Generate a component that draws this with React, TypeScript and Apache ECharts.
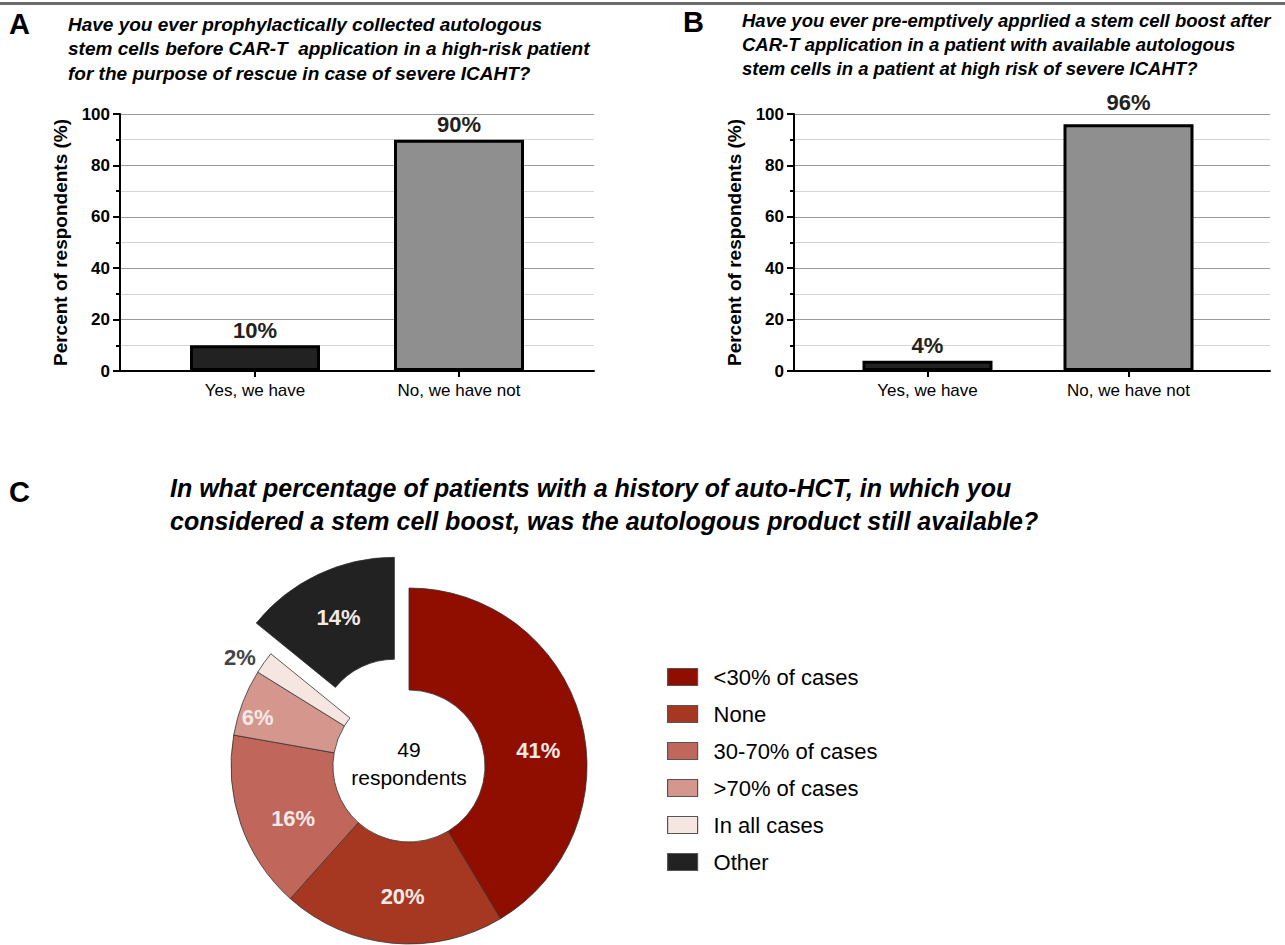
import React, { useEffect, useRef } from "react";
import * as echarts from "echarts";

const barCategories = ["Yes, we have", "No, we have not"];
const valuesA = [10, 90];
const valuesB = [4, 96];
const barColors = ["#222222", "#8f8f8f"];
const yTicks = [0, 20, 40, 60, 80, 100];

const pieNames = ["<30% of cases", "None", "30-70% of cases", ">70% of cases", "In all cases", "Other"];
const pieValues = [41, 20, 16, 6, 2, 14];
const pieColors = ["#8f0e00", "#a63822", "#c0665a", "#d5978d", "#f5e6e2", "#222222"];

const titleA = [
  "Have you ever prophylactically collected autologous",
  "stem cells before CAR-T  application in a high-risk patient",
  "for the purpose of rescue in case of severe ICAHT?",
];
const titleB = [
  "Have you ever pre-emptively apprlied a stem cell boost after",
  "CAR-T application in a patient with available autologous",
  "stem cells in a patient at high risk of severe ICAHT?",
];
const titleC = [
  "In what percentage of patients with a history of auto-HCT, in which you",
  "considered a stem cell boost, was the autologous product still available?",
];

const FONT = "'Liberation Sans', Arial, Helvetica, sans-serif";

export default function App() {
  const ref = useRef<HTMLDivElement>(null);
  useEffect(() => {
    if (!ref.current) return;
    const chart = echarts.init(ref.current, undefined, { renderer: "svg" });

    const frameY = (gridIndex: number) => ({
      type: "value",
      gridIndex,
      min: yTicks[0],
      max: yTicks[yTicks.length - 1],
      interval: 20,
      name: "Percent of respondents (%)",
      nameLocation: "middle",
      nameRotate: 90,
      nameGap: 50,
      nameTextStyle: { fontSize: 19, fontWeight: "bold", color: "#000", fontFamily: FONT },
      axisLine: { show: true, lineStyle: { color: "#000", width: 2 } },
      axisTick: { show: true, length: 7, lineStyle: { color: "#000", width: 2 } },
      minorTick: { show: true, splitNumber: 2, length: 4, lineStyle: { color: "#000", width: 2 } },
      splitLine: { show: true, lineStyle: { color: "#9a9a9a", width: 1 } },
      minorSplitLine: { show: true, lineStyle: { color: "#d4d4d4", width: 1 } },
      axisLabel: { fontSize: 17, fontWeight: "bold", color: "#000", margin: 10, fontFamily: FONT },
    });
    const frameX = (gridIndex: number) => ({
      type: "value",
      gridIndex,
      min: 0,
      max: 1,
      axisLine: { show: true, onZero: false, lineStyle: { color: "#000", width: 2 } },
      axisTick: { show: false },
      axisLabel: { show: false },
      splitLine: { show: false },
    });
    const barX = (gridIndex: number) => ({
      type: "category",
      gridIndex,
      data: barCategories,
      axisLine: { show: false },
      axisTick: { show: true, alignWithLabel: true, length: 6, lineStyle: { color: "#000", width: 2 } },
      axisLabel: { fontSize: 17, color: "#000", margin: 11, fontFamily: FONT },
      splitLine: { show: false },
    });
    const barY = (gridIndex: number) => ({
      type: "value",
      gridIndex,
      min: 0,
      max: 100,
      show: false,
      splitLine: { show: false },
    });
    const barSeries = (idx: number, vals: number[], topOffset: number) => ({
      type: "bar",
      xAxisIndex: idx,
      yAxisIndex: idx,
      barWidth: 130,
      data: vals.map((v, i) => ({
        value: v,
        itemStyle: { color: barColors[i] },
        label: i === 1 ? { offset: [0, topOffset] } : undefined,
      })),
      itemStyle: { borderColor: "#000", borderWidth: 3 },
      label: {
        show: true,
        position: "top",
        distance: 4,
        formatter: "{c}%",
        fontSize: 22,
        fontWeight: "bold",
        color: "#222",
        fontFamily: FONT,
      },
      emphasis: { disabled: true },
      silent: true,
    });

    const textLines = (lines: string[], x: number, y: number, size: number, lh: number) => ({
      type: "text",
      left: x,
      top: y,
      style: {
        text: lines.join("\n"),
        fontSize: size,
        fontWeight: "bold",
        fontStyle: "italic",
        fontFamily: FONT,
        lineHeight: lh,
        fill: "#000",
      },
    });
    const letter = (t: string, x: number, y: number, size: number) => ({
      type: "text",
      left: x,
      top: y,
      style: { text: t, fontSize: size, fontWeight: "bold", fontFamily: FONT, fill: "#000" },
    });

    const option: any = {
      animation: false,
      textStyle: { fontFamily: FONT },
      grid: [
        { left: 120, top: 114, width: 474, height: 257 },
        { left: 153, top: 114, width: 408, height: 257 },
        { left: 794, top: 114, width: 476, height: 257 },
        { left: 827, top: 114, width: 402, height: 257 },
      ],
      xAxis: [frameX(0), barX(1), frameX(2), barX(3)],
      yAxis: [frameY(0), barY(1), frameY(2), barY(3)],
      legend: {
        data: pieNames,
        orient: "vertical",
        left: 667,
        top: 666,
        padding: 0,
        itemWidth: 30,
        itemHeight: 17,
        itemGap: 15,
        selectedMode: false,
        icon: "rect",
        itemStyle: { borderColor: "#555", borderWidth: 1.2 },
        textStyle: { fontSize: 22, color: "#000", lineHeight: 22, padding: [0, 0, 0, 11], fontFamily: FONT },
      },
      series: [
        barSeries(1, valuesA, 0),
        barSeries(3, valuesB, -7),
        {
          type: "pie",
          center: [409, 766],
          radius: [76, 178],
          startAngle: 90,
          clockwise: true,
          selectedMode: "single",
          selectedOffset: 34,
          avoidLabelOverlap: false,
          silent: true,
          emphasis: { disabled: true },
          itemStyle: { borderColor: "#333", borderWidth: 0.8 },
          label: {
            show: true,
            position: "inside",
            formatter: "{c}%",
            fontSize: 22,
            fontWeight: "bold",
            color: "#f3e9e7",
            fontFamily: FONT,
          },
          labelLine: { show: false },
          data: pieValues.map((v, i) => {
            const d: any = { name: pieNames[i], value: v, itemStyle: { color: pieColors[i] } };
            if (pieNames[i] === "Other") d.selected = true;
            if (pieNames[i] === "<30% of cases") d.label = { offset: [4, 19] };
            if (pieNames[i] === "None") d.label = { offset: [6, 1] };
            if (pieNames[i] === "30-70% of cases") d.label = { offset: [7, 10] };
            if (pieNames[i] === ">70% of cases") d.label = { offset: [-30, -2] };
            if (pieNames[i] === "Other") d.label = { offset: [0, -8] };
            if (pieNames[i] === "In all cases") {
              d.label = { position: "outside", color: "#444", offset: [0, -3] };
              d.labelLine = { show: false, length: 4, length2: 0 };
            }
            return d;
          }),
        },
      ],
      graphic: [
        { type: "rect", shape: { x: 0, y: 2, width: 1285, height: 3 }, style: { fill: "#6b6b6b" } },
        letter("A", 9, 9, 29),
        letter("B", 683, 7, 29),
        letter("C", 9, 477, 29),
        textLines(titleA, 68, 12, 19, 24.5),
        textLines(titleB, 742, 8, 18.5, 24),
        textLines(titleC, 170, 471, 25, 33),
        {
          type: "text",
          x: 409,
          y: 763,
          style: {
            text: "49\nrespondents",
            fontSize: 21,
            lineHeight: 28,
            fontFamily: FONT,
            fill: "#000",
            align: "center",
            verticalAlign: "middle",
          },
        },
      ],
    };
    chart.setOption(option);
    return () => chart.dispose();
  }, []);
  return (
    <div
      ref={ref}
      style={{ position: "fixed", left: 0, top: 0, width: 1285, height: 945, background: "#fff" }}
    />
  );
}
